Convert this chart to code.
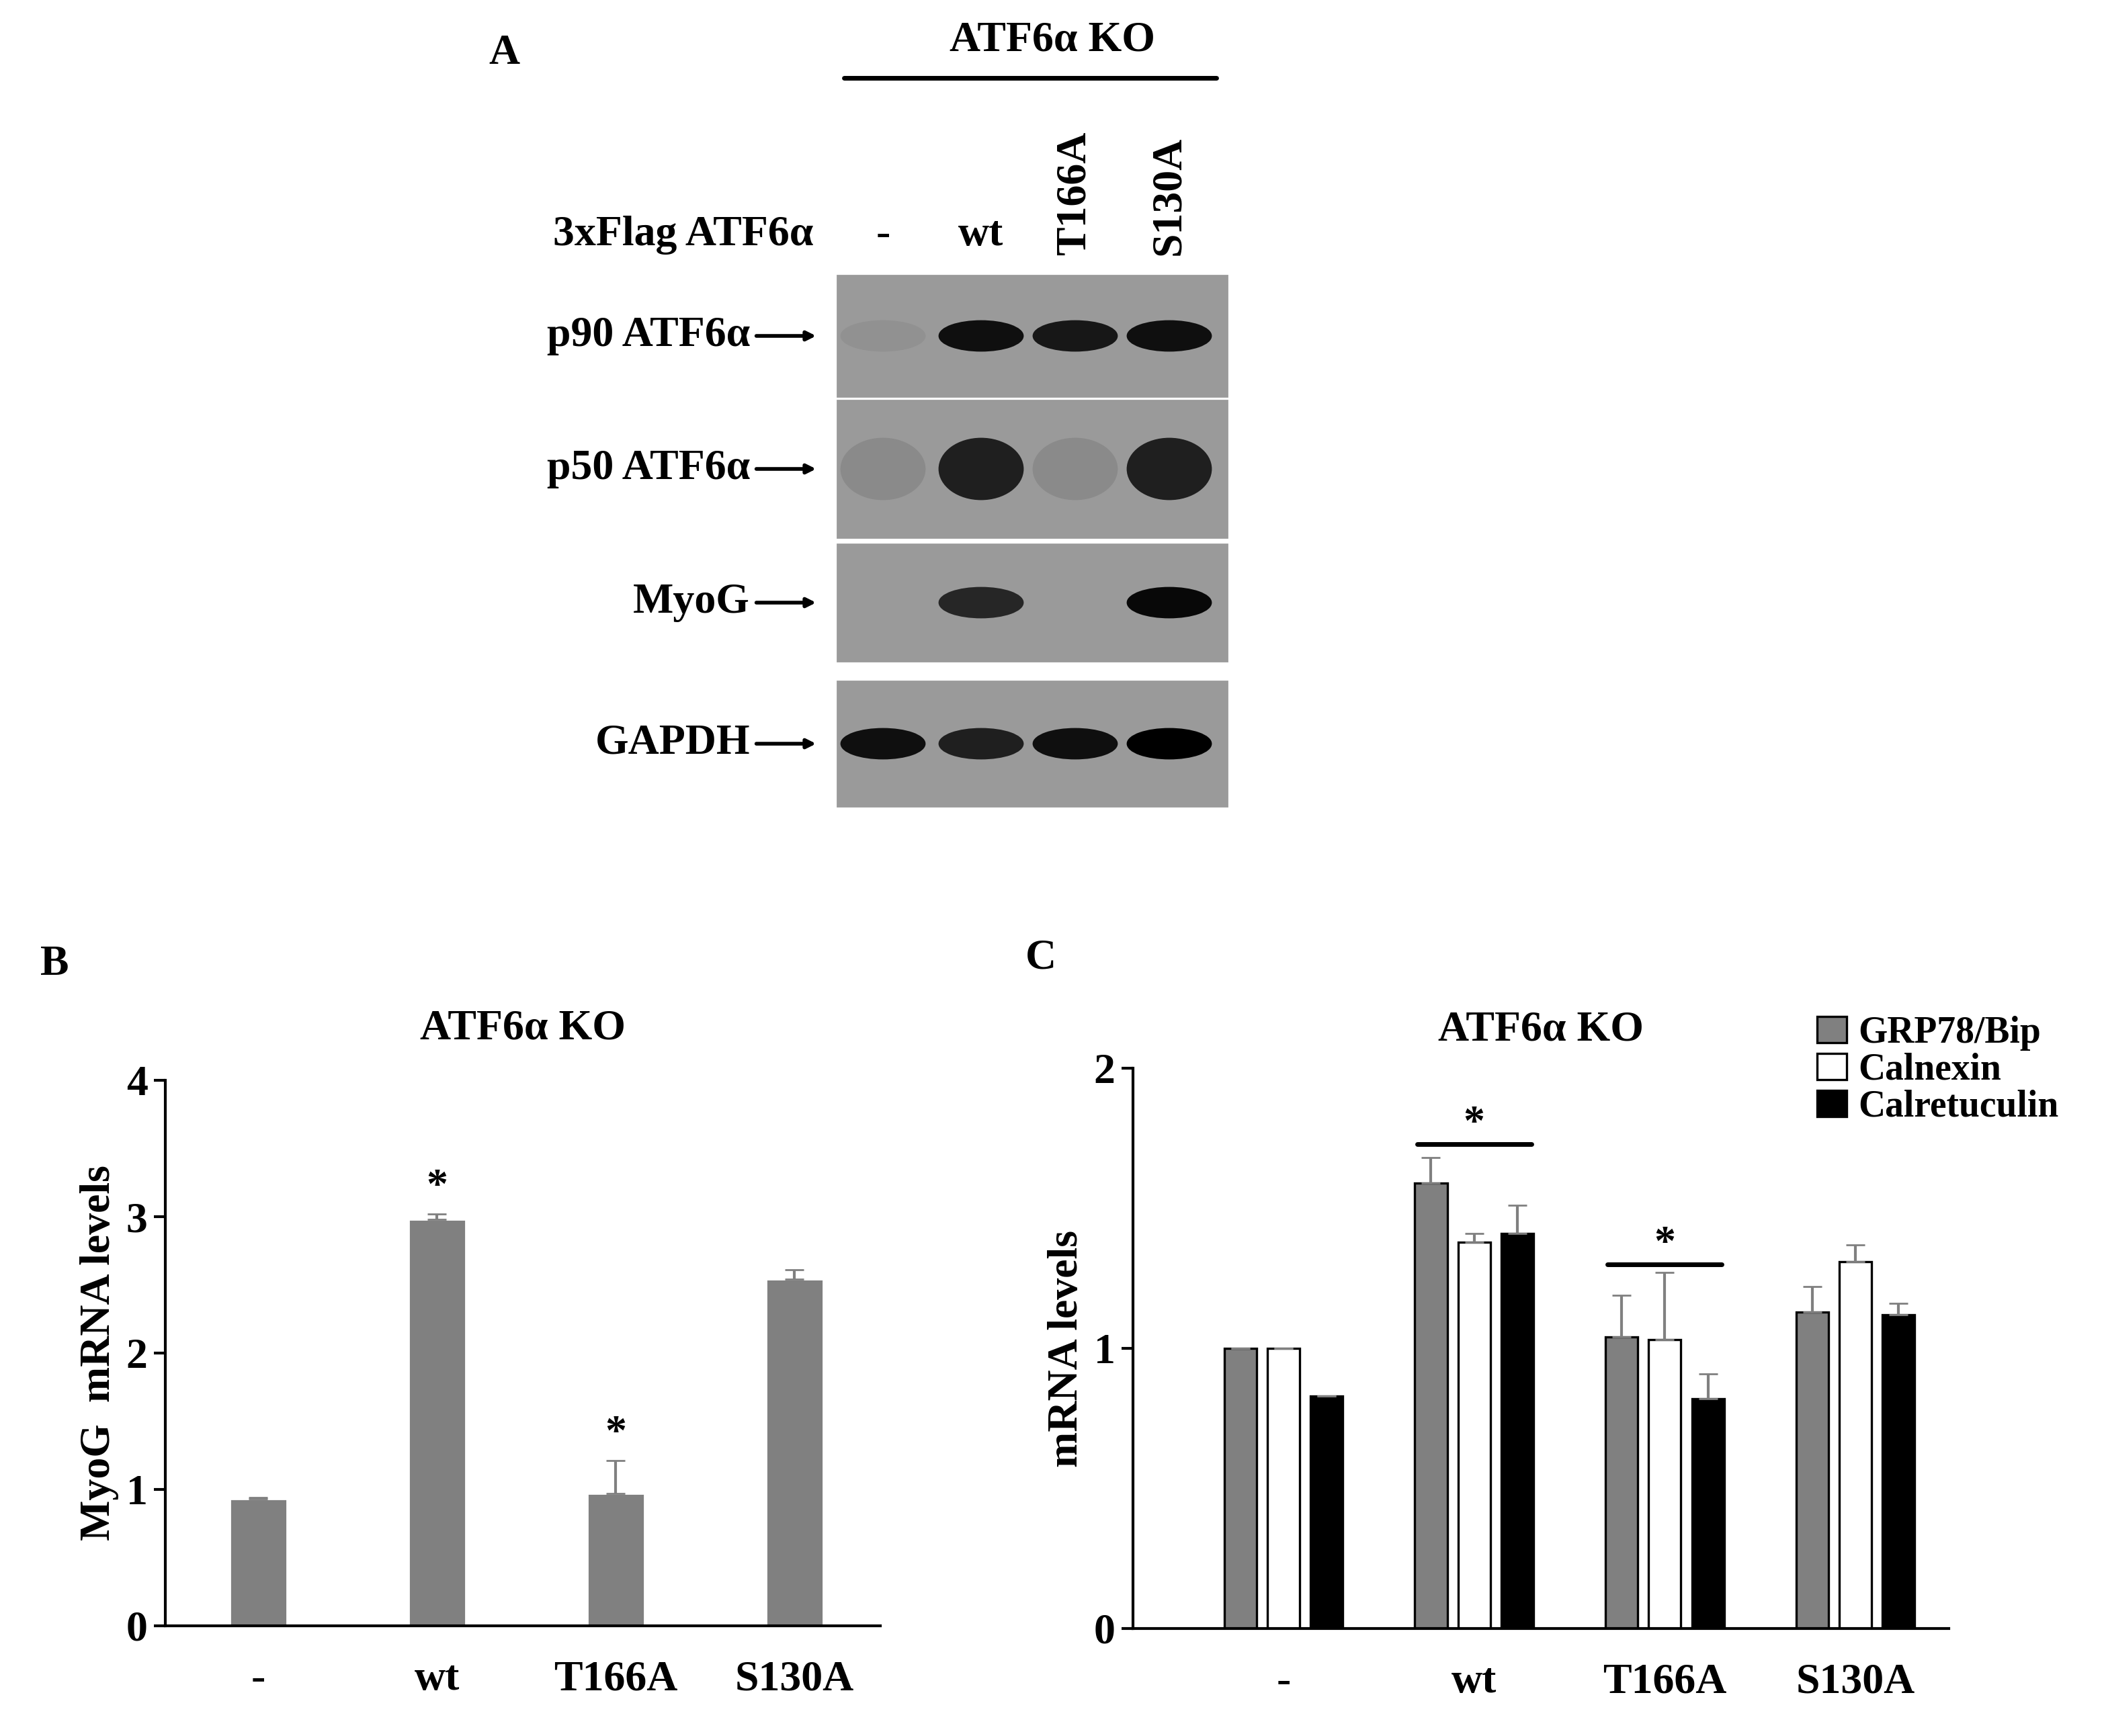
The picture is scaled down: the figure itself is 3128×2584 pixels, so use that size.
import numpy as np, pandas as pd, matplotlib
matplotlib.use("Agg")
import matplotlib.pyplot as plt, seaborn as sns
from matplotlib.patches import Rectangle, Ellipse

sns.set_style("white")
plt.rcParams['font.family'] = ['Liberation Serif', 'DejaVu Serif']
plt.rcParams['font.weight'] = 'bold'
plt.rcParams['axes.labelweight'] = 'bold'
plt.rcParams['axes.titleweight'] = 'bold'
for k in ['text.color', 'axes.labelcolor', 'xtick.color', 'ytick.color']:
    plt.rcParams[k] = 'black'

cats = ["-", "wt", "T166A", "S130A"]
myog = [0.93, 2.98, 0.97, 2.54]
myog_err = [0.01, 0.04, 0.24, 0.07]
series = ["GRP78/Bip", "Calnexin", "Calretuculin"]
grp78 = [1.0, 1.59, 1.04, 1.13]; grp78_err = [0.0, 0.09, 0.15, 0.09]
calnexin = [1.0, 1.38, 1.03, 1.31]; calnexin_err = [0.0, 0.03, 0.24, 0.06]
calret = [0.83, 1.41, 0.82, 1.12]; calret_err = [0.0, 0.10, 0.09, 0.04]
blot_rows = ["p90 ATF6\u03b1", "p50 ATF6\u03b1", "MyoG", "GAPDH"]
band_int = [[0.05, 0.9, 0.85, 0.9], [0.1, 0.8, 0.1, 0.8], [0.0, 0.75, 0.0, 0.95], [0.9, 0.8, 0.9, 1.0]]

W, H = 1564, 1292
fig = plt.figure(figsize=(15.64, 12.92), dpi=200)
def ax_at(x0, y0, x1, y1):
    return fig.add_axes([x0/W, 1-y1/H, (x1-x0)/W, (y1-y0)/H])

fs = 23
# Panel A (blot drawing)
axA = fig.add_axes([0, 0, 1, 1], zorder=-1); axA.set_xlim(0, W); axA.set_ylim(H, 0); axA.axis('off')
axA.text(375, 40, "A", fontsize=fs, ha='center', va='center')
axA.text(783, 30, "ATF6\u03b1 KO", fontsize=fs, ha='center', va='center')
axA.plot([628, 905], [58, 58], color='k', lw=2.5)
axA.text(605, 175, "3xFlag ATF6\u03b1", fontsize=fs, ha='right', va='center')
lanes = [657, 730, 800, 870]
axA.text(657, 175, "-", fontsize=fs, ha='center', va='center')
axA.text(730, 175, "wt", fontsize=fs, ha='center', va='center')
axA.text(800, 190, "T166A", fontsize=fs, ha='center', va='bottom', rotation=90)
axA.text(870, 190, "S130A", fontsize=fs, ha='center', va='bottom', rotation=90)
strips = [(205, 295), (298, 400), (405, 492), (507, 600)]
for (y0, y1), lab, ints in zip(strips, blot_rows, band_int):
    axA.add_patch(Rectangle((623, y0), 290, y1-y0, color='#9a9a9a'))
    yc = (y0+y1)/2
    for x, v in zip(lanes, ints):
        if v > 0.02:
            g = 1 - v
            axA.add_patch(Ellipse((x, yc), 62, 22 if lab != "p50 ATF6\u03b1" else 45, color=(0.6*g, 0.6*g, 0.6*g)))
    axA.text(558, yc, lab, fontsize=fs, ha='right', va='center')
    axA.annotate("", xy=(610, yc), xytext=(560, yc), arrowprops=dict(arrowstyle='-|>', color='k', lw=2))

# Panel B
dfB = pd.DataFrame({"cat": cats, "val": myog})
axB = ax_at(123, 804, 655, 1210)
sns.barplot(data=dfB, x="cat", y="val", color="#808080", width=0.32, ax=axB, saturation=1)
axB.errorbar(range(4), myog, yerr=[np.zeros(4), myog_err], fmt='none', ecolor='#808080', capsize=5, lw=1.5)
axB.set_ylim(0, 4); axB.set_xlim(-0.52, 3.48)
axB.set_yticks([0, 1, 2, 3, 4])
axB.set_xlabel(""); axB.set_ylabel("MyoG  mRNA levels", fontsize=fs, fontweight='bold')
for s in ["top", "right"]: axB.spines[s].set_visible(False)
for s in ["left", "bottom"]: axB.spines[s].set_color('k'); axB.spines[s].set_linewidth(1.5)
axB.tick_params(axis='y', left=True, direction='out', length=6, labelsize=fs, width=1.5)
axB.tick_params(axis='x', labelsize=fs, pad=15)
axB.set_title("ATF6\u03b1 KO", fontsize=fs, pad=22, fontweight='bold')
for i in (1, 2):
    axB.text(i, myog[i]+myog_err[i]+0.05, "*", fontsize=fs, ha='center', va='bottom')
fig.text(30/W, 1-718/H, "B", fontsize=fs, va='center')

# Panel C
dfC = pd.DataFrame({"cat": cats*3, "series": sum([[s]*4 for s in series], []),
                    "val": grp78 + calnexin + calret})
errs = [grp78_err, calnexin_err, calret_err]
axC = ax_at(843, 795, 1450, 1212)
sns.barplot(data=dfC, x="cat", y="val", hue="series", palette=["#808080", "white", "black"],
            width=0.68, gap=0.25, edgecolor='k', linewidth=1.2, ax=axC, saturation=1)
offs = [-0.227, 0, 0.227]
for j in range(3):
    vals = dfC[dfC.series == series[j]].val.values
    axC.errorbar(np.arange(4)+offs[j], vals, yerr=[np.zeros(4), errs[j]], fmt='none', ecolor='#808080', capsize=5, lw=1.5)
axC.set_ylim(0, 2); axC.set_xlim(-0.79, 3.49)
axC.set_yticks([0, 1, 2])
axC.set_xlabel(""); axC.set_ylabel("mRNA levels", fontsize=fs, fontweight='bold')
for s in ["top", "right"]: axC.spines[s].set_visible(False)
for s in ["left", "bottom"]: axC.spines[s].set_color('k'); axC.spines[s].set_linewidth(1.5)
axC.tick_params(axis='y', left=True, direction='out', length=6, labelsize=fs, width=1.5)
axC.tick_params(axis='x', labelsize=fs, pad=15)
axC.set_title("ATF6\u03b1 KO", fontsize=fs, pad=15, fontweight='bold')
axC.legend(loc='upper left', bbox_to_anchor=(0.82, 1.12), frameon=False, prop={'size': 20, 'weight': 'bold'},
           handlelength=0.8, handletextpad=0.3, labelspacing=0.05, borderaxespad=0)
for i, y in ((1, 1.73), (2, 1.0+0.3)):
    axC.plot([i-0.3, i+0.3], [y, y], color='k', lw=2.5)
    axC.text(i, y+0.0, "*", fontsize=fs, ha='center', va='bottom')
fig.text(763/W, 1-713/H, "C", fontsize=fs, va='center')

fig.savefig("out.png", dpi=200)
